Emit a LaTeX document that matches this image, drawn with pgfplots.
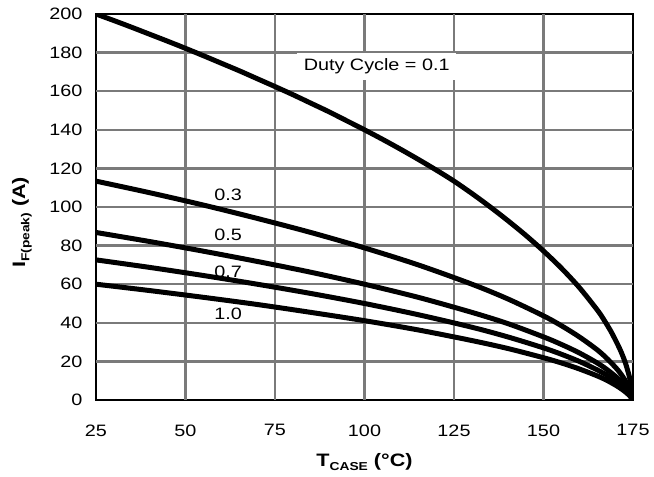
\documentclass[border=0pt]{standalone}
\usepackage{fontspec}
\setmainfont[FakeStretch=1.2]{Liberation Sans}
\usepackage{pgfplots}
\usepackage{pgfplotstable}
\pgfplotsset{compat=1.18}

% Peak forward current vs. case temperature, duty cycle 0.1
\pgfplotstableread{
T     I
25    200.0
30    196.6
35    193.1
40    189.5
45    185.9
50    182.2
55    178.4
60    174.5
65    170.6
70    166.5
75    162.4
80    158.2
85    153.8
90    149.4
95    144.7
100   140.0
105   135.1
110   130.0
115   124.7
120   119.2
125   113.4
130   107.0
135   100.2
140   93.0
145   85.4
150   77.2
155   68.3
160   58.3
165   46.7
167   41.2
169   35.0
171   27.7
172   23.5
173   18.5
174   12.0
174.5 7.5
175   0
}\dutyA

% Duty cycles 0.3, 0.5, 0.7 and 1.0
\pgfplotstableread{
T     d03    d05   d07   d10
25    113.4  86.8  72.6  60.0
40    107.4  82.1  68.7  56.7
55    101.0  77.1  64.5  53.2
70    94.1   71.8  60.0  49.5
85    86.8   66.2  55.2  45.4
100   78.8   60.0  50.0  41.1
115   70.0   53.2  44.2  36.3
130   60.0   45.4  37.7  30.8
140   52.4   39.6  32.7  26.7
150   43.6   32.7  27.0  21.9
155   38.5   28.8  23.7  19.2
160   32.7   24.4  20.0  16.1
165   26.0   19.2  15.6  12.5
168   21.0   15.4  12.5  9.9
171   15.0   10.8  8.6   6.7
173   9.6    6.7   5.2   4.0
174   5.9    4.0   3.1   2.3
174.6 2.9    1.9   1.4   1.0
175   0      0     0     0
}\dutyB

\newcommand{\lblfont}{\fontsize{16.5bp}{19bp}\selectfont}
\pgfplotsset{curve/.style={draw=black, line width=5bp, mark=none, smooth, line join=round}}
\tikzset{gridline/.style={draw=black!52, line width=2.4bp}}

\begin{document}
\begin{tikzpicture}
\useasboundingbox (0,0) rectangle (654bp,477bp);
\begin{axis}[
  at={(96bp,77bp)}, anchor=south west,
  scale only axis, width=537bp, height=386bp,
  xmin=25, xmax=175, ymin=0, ymax=200,
  xtick={25,50,...,175}, ytick={0,20,...,200},
  axis line style={line width=1.6bp},
  tick style={draw=none},
  /pgf/number format/assume math mode=true,
  ticklabel style={font=\lblfont},
  xticklabel style={yshift=-21bp},
  yticklabel style={xshift=-10bp},
  xlabel={\fontsize{18bp}{20bp}\selectfont\bfseries T\raisebox{-0.45ex}{\fontsize{11.5bp}{12bp}\selectfont CASE} (°C)},
  ylabel={\fontsize{18bp}{20bp}\selectfont\bfseries I\raisebox{-0.45ex}{\fontsize{11.5bp}{12bp}\selectfont F(peak)} (A)},
  xlabel style={at={(axis description cs:0.5,-0.171)}, anchor=base},
  ylabel style={at={(axis description cs:-0.138,0.46)}, anchor=center},
]
% grid
\pgfplotsinvokeforeach{50,75,100,125,150}{\draw[gridline] (axis cs:#1,0) -- (axis cs:#1,200);}
\pgfplotsinvokeforeach{20,40,...,180}{\draw[gridline] (axis cs:25,#1) -- (axis cs:175,#1);}
% annotations
\node[fill=white, inner sep=0pt, minimum width=159bp, minimum height=27bp, font=\lblfont]
  at (axis cs:103.4,172.8) {Duty Cycle = 0.1};
\node[font=\lblfont] at (axis cs:61.9,106.2) {0.3};
\node[font=\lblfont] at (axis cs:61.9,85.8) {0.5};
\node[font=\lblfont] at (axis cs:61.9,66.6) {0.7};
\node[font=\lblfont] at (axis cs:61.9,44.7) {1.0};
% curves
\addplot[curve] table[x=T, y=I] {\dutyA};
\addplot[curve] table[x=T, y=d03] {\dutyB};
\addplot[curve] table[x=T, y=d05] {\dutyB};
\addplot[curve] table[x=T, y=d07] {\dutyB};
\addplot[curve] table[x=T, y=d10] {\dutyB};
\end{axis}
\end{tikzpicture}
\end{document}
